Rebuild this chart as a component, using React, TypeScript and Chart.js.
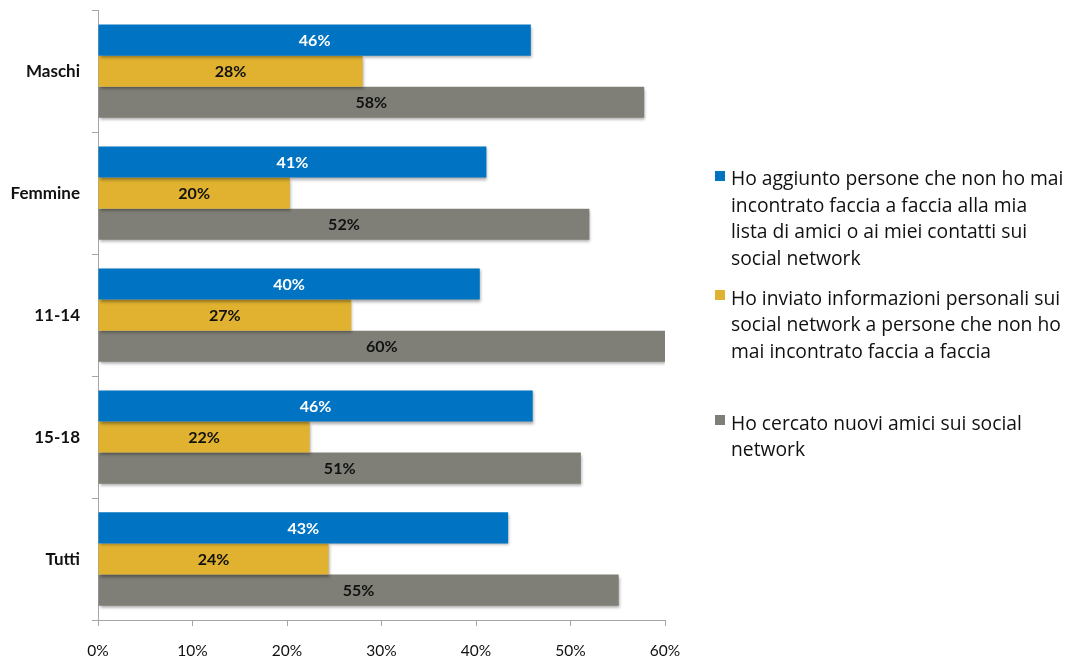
import React, { useEffect, useRef } from "react";
import { Chart, registerables } from "chart.js";

Chart.register(...registerables);

const categories = ["Maschi", "Femmine", "11-14", "15-18", "Tutti"];
const seriesNames = [
  "Ho aggiunto persone che non ho mai\nincontrato faccia a faccia alla mia\nlista di amici o ai miei contatti sui\nsocial network",
  "Ho inviato informazioni personali sui\nsocial network a persone che non ho\nmai incontrato faccia a faccia",
  "Ho cercato nuovi amici sui social\nnetwork",
];
const addedStrangers = [45.8, 41.1, 40.4, 46.0, 43.4];
const sentInfo = [28.0, 20.3, 26.8, 22.4, 24.4];
const soughtFriends = [57.8, 52.0, 60.0, 51.1, 55.1];
const xTicks = [0, 10, 20, 30, 40, 50, 60];

const colors = ["#0074C2", "#E0B22F", "#7F7F78"];
const labelColors = ["#FFFFFF", "#111111", "#111111"];
const FONT = "Lato, 'Open Sans', sans-serif";
const LEGEND_FONT = "'Open Sans', Lato, sans-serif";

const shadowPlugin = {
  id: "barShadow",
  beforeDatasetDraw(chart: any) {
    const ctx = chart.ctx;
    ctx.save();
    ctx.shadowColor = "rgba(0,0,0,0.35)";
    ctx.shadowBlur = 3;
    ctx.shadowOffsetX = 1;
    ctx.shadowOffsetY = 2;
  },
  afterDatasetDraw(chart: any) {
    chart.ctx.restore();
  },
};

const valueLabelPlugin = {
  id: "valueLabels",
  afterDatasetsDraw(chart: any) {
    const ctx = chart.ctx;
    ctx.save();
    ctx.font = `bold 16px ${FONT}`;
    ctx.textAlign = "center";
    ctx.textBaseline = "middle";
    chart.data.datasets.forEach((ds: any, di: number) => {
      const meta = chart.getDatasetMeta(di);
      meta.data.forEach((bar: any, i: number) => {
        const v = ds.data[i];
        const x = (bar.base + bar.x) / 2;
        ctx.fillStyle = labelColors[di];
        ctx.fillText(Math.round(v) + "%", x, bar.y + 1);
      });
    });
    ctx.restore();
  },
};

const CANVAS_SHIFT = 12;

export default function App() {
  const ref = useRef<HTMLCanvasElement | null>(null);

  useEffect(() => {
    if (!ref.current) return;
    const chart = new Chart(ref.current, {
      type: "bar",
      data: {
        labels: categories,
        datasets: [addedStrangers, sentInfo, soughtFriends].map((d, i) => ({
          label: seriesNames[i],
          data: d,
          backgroundColor: colors[i],
          borderWidth: 0,
          barPercentage: 1.0,
          categoryPercentage: 0.765,
        })),
      },
      options: {
        indexAxis: "y",
        responsive: false,
        animation: false,
        layout: { padding: { top: 8, right: 403, left: 0, bottom: 0 } },
        plugins: {
          legend: { display: false },
          tooltip: { enabled: false },
        },
        scales: {
          x: {
            min: 0,
            max: 60,
            afterBuildTicks: (scale: any) => {
              scale.ticks = xTicks.map((v) => ({ value: v }));
            },
            afterFit: (scale: any) => {
              scale.height = 42;
            },
            grid: {
              drawOnChartArea: false,
              drawTicks: true,
              tickLength: 6,
              color: "#A6A6A6",
            },
            border: { color: "#A6A6A6", width: 1 },
            ticks: {
              padding: 16,
              color: "#111111",
              font: { family: FONT, size: 15.5 },
              callback: (v: any) => v + "%",
            },
          },
          y: {
            afterFit: (scale: any) => {
              scale.width = 98;
            },
            grid: {
              drawOnChartArea: false,
              drawTicks: true,
              tickLength: 6,
              color: "#A6A6A6",
              offset: true,
            },
            border: { color: "#A6A6A6", width: 1 },
            ticks: {
              padding: 12,
              color: "#111111",
              font: { family: FONT, size: 17, weight: "bold" },
            },
          },
        },
      },
      plugins: [shadowPlugin, valueLabelPlugin],
    });
    return () => chart.destroy();
  }, []);

  const legendTops = [165, 284.5, 409.5];
  const squareTops = [171, 290, 415];

  return (
    <div
      style={{
        position: "fixed",
        left: 0,
        top: 0,
        width: 1068,
        height: 662,
        background: "#fff",
        overflow: "hidden",
      }}
    >
      <canvas
        ref={ref}
        width={1068}
        height={662 + CANVAS_SHIFT}
        style={{ position: "absolute", left: 0, top: -CANVAS_SHIFT }}
      />
      {seriesNames.map((name, i) => (
        <React.Fragment key={i}>
          <div
            style={{
              position: "absolute",
              left: 715,
              top: squareTops[i],
              width: 10,
              height: 10,
              background: colors[i],
            }}
          />
          <div
            style={{
              position: "absolute",
              left: 731,
              top: legendTops[i],
              fontFamily: LEGEND_FONT,
              fontSize: 19.3,
              lineHeight: "26.5px",
              color: "#111",
              whiteSpace: "pre",
            }}
          >
            {name}
          </div>
        </React.Fragment>
      ))}
    </div>
  );
}
